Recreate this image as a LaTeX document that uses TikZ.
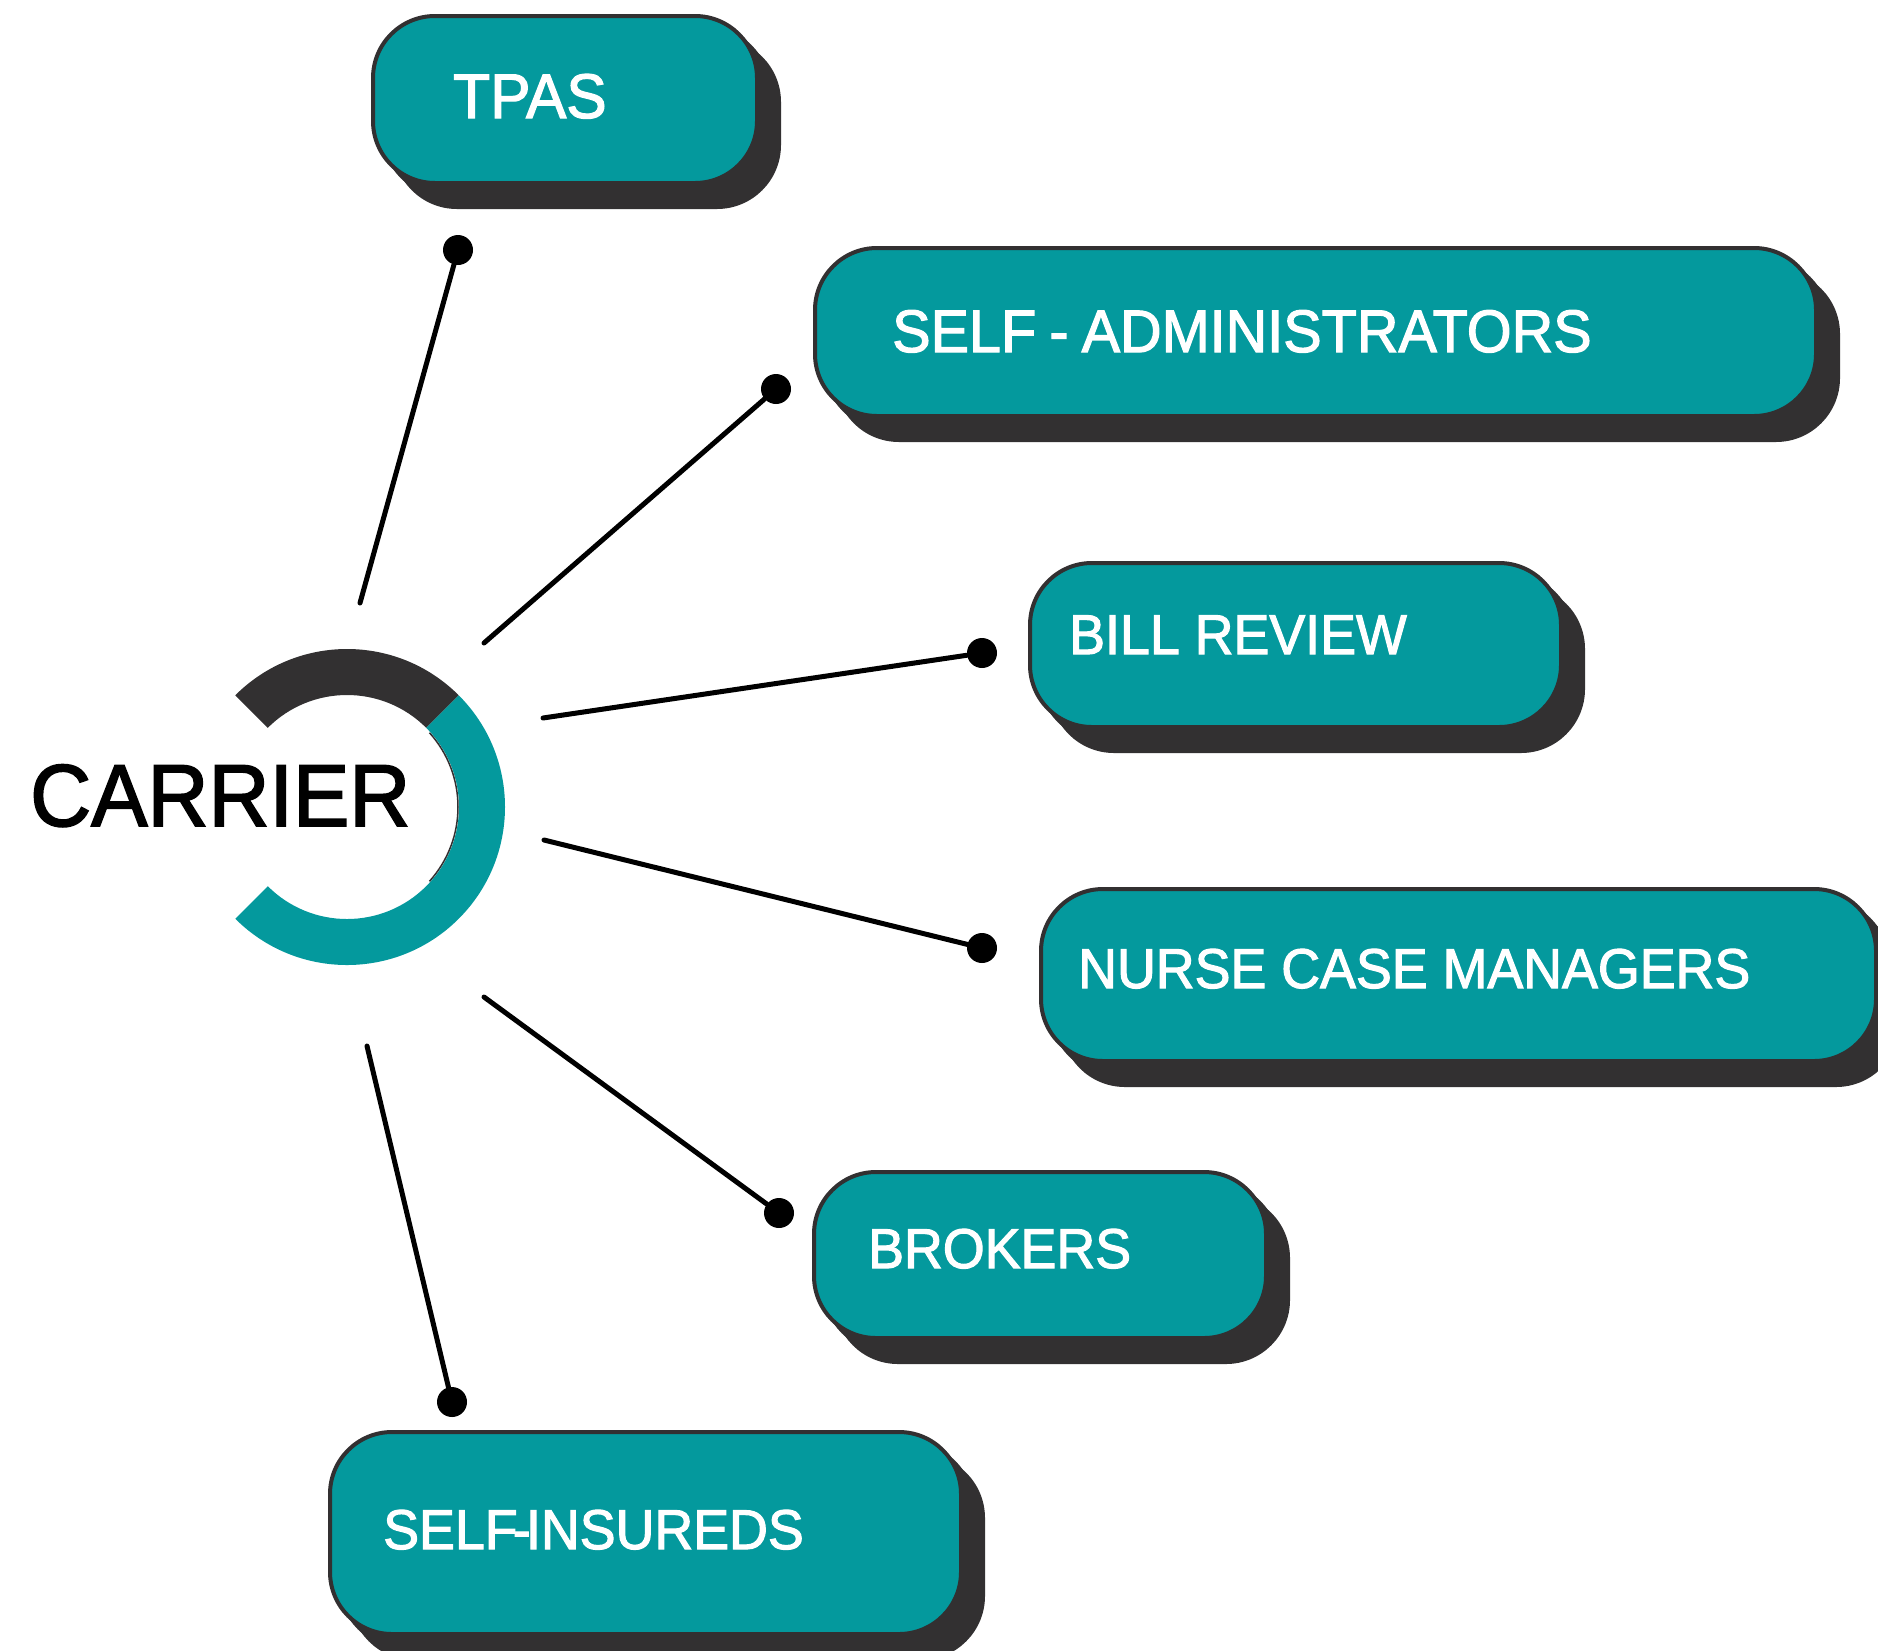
\documentclass[tikz,border=0pt]{standalone}
\usepackage{fontspec}
\setmainfont{Liberation Sans}[FakeBold=2]
\usepackage{graphicx}
\usetikzlibrary{calc,shadows}
\definecolor{tealbox}{HTML}{04999D}
\definecolor{darkgray0}{HTML}{323031}
\def\ringseg[#1](#2)(#3:#4){\fill[#1] ($(#2)+(#3:158pt)$) arc (#3:#4:158pt) -- ($(#2)+(#4:112pt)$) arc (#4:#3:112pt) -- cycle;}
\newcommand{\pilltxt}[2]{\fontsize{#1}{#1}\selectfont\scalebox{0.96}[1]{#2}}

\tikzset{
	pill/.style={draw=darkgray0, line width=4pt, fill=tealbox, rounded corners=62pt, anchor=north west, inner sep=0pt,
		copy shadow={shadow xshift=22pt, shadow yshift=-24pt, fill=darkgray0, draw=darkgray0, line width=4pt},
		copy shadow={shadow xshift=11pt, shadow yshift=-12pt, fill=darkgray0, draw=darkgray0, line width=4pt}},
	pilltext/.style={anchor=base west, inner sep=0pt, text=white},
	pin/.style={circle, fill=black, minimum size=30pt, inner sep=0pt},
	spoke/.style={line width=5pt, line cap=round}
}

\begin{document}
\begin{tikzpicture}[x=1pt, y=1pt]
			%%%%% START %%%%%
			\useasboundingbox (0,0) rectangle (1878,-1650);
			
			\coordinate (ring) at (347,-807);
			\ringseg[darkgray0](ring)(45:135)
			\ringseg[tealbox](ring)(-135:45)
			\draw[darkgray0, line width=1.5pt] ($(ring)+(42:111pt)$) arc (42:-42:111pt);
			\node[anchor=base west, inner sep=0pt] (carrier) at (30,-826) {\pilltxt{88}{CARRIER}};
			
			\node[pill, minimum width=384pt, minimum height=167pt] (tpas) at (371,-14) {};
			\node[pilltext] (tpas-t) at (453,-118) {\pilltxt{63}{TPAS}};
			
			\node[pill, minimum width=1001pt, minimum height=168pt] (selfadm) at (813,-246) {};
			\node[pilltext] (selfadm-t) at (892,-352) {\pilltxt{60}{SELF\kern-3pt{} - \kern-3pt ADMINISTRATORS}};
			
			\node[pill, minimum width=531pt, minimum height=164pt] (billrev) at (1028,-561) {};
			\node[pilltext] (billrev-t) at (1069,-654) {\pilltxt{56}{BILL REVIEW}};
			
			\node[pill, minimum width=835pt, minimum height=172pt] (nurse) at (1039,-887) {};
			\node[pilltext] (nurse-t) at (1078,-988) {\pilltxt{56}{NURSE CASE MANAGERS}};
			
			\node[pill, minimum width=452pt, minimum height=166pt] (brokers) at (812,-1170) {};
			\node[pilltext] (brokers-t) at (868,-1268) {\pilltxt{56}{BROKERS}};
			
			\node[pill, minimum width=631pt, minimum height=202pt] (selfins) at (328,-1430) {};
			\node[pilltext] (selfins-t) at (383,-1549) {\pilltxt{56}{SELF\kern-5pt-\kern-5pt INSUREDS}};
			
			% spokes
			\coordinate (s1) at (360,-603);
			\coordinate (s2) at (484,-643);
			\coordinate (s3) at (543,-718);
			\coordinate (s4) at (544,-840);
			\coordinate (s5) at (484,-997);
			\coordinate (s6) at (367,-1046);
			\node[pin] (d1) at (458,-250) {};
			\node[pin] (d2) at (776,-389) {};
			\node[pin] (d3) at (982,-653) {};
			\node[pin] (d4) at (982,-948) {};
			\node[pin] (d5) at (779,-1213) {};
			\node[pin] (d6) at (452,-1402) {};
			\draw[spoke] (s1) -- (d1);
			\draw[spoke] (s2) -- (d2);
			\draw[spoke] (s3) -- (d3);
			\draw[spoke] (s4) -- (d4);
			\draw[spoke] (s5) -- (d5);
			\draw[spoke] (s6) -- (d6);
			
			%%%%% END %%%%%
\end{tikzpicture}
\end{document}
